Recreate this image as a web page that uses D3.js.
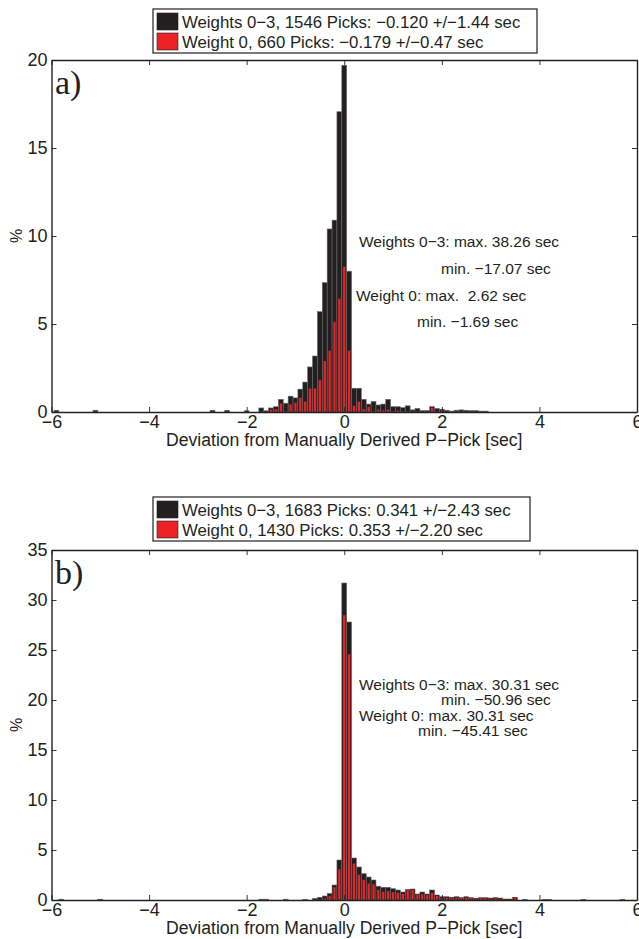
<!DOCTYPE html>
<html><head><meta charset="utf-8">
<script src="https://cdn.jsdelivr.net/npm/d3@7"></script>
<style>body{margin:0;background:#fff}svg{display:block}text{font-family:"Liberation Sans",Arial,Helvetica,sans-serif;fill:#231f20}</style>
</head><body>
<script>
// ---------- data ----------
const xTicks = [-6, -4, -2, 0, 2, 4, 6];
const aYTicks = [0, 5, 10, 15, 20];
const bYTicks = [0, 5, 10, 15, 20, 25, 30, 35];

// Panel a) bin centres (sec) and percentages
const aBins = [-5.9,-5.1,-2.7,-2.4,-2.0,-1.7,-1.6,-1.5,-1.4,-1.3,-1.2,-1.1,-1.0,-0.9,-0.8,-0.7,-0.6,-0.5,-0.4,-0.3,-0.2,-0.1,0.0,0.1,0.2,0.3,0.4,0.5,0.6,0.7,0.8,0.9,1.0,1.1,1.2,1.3,1.4,1.5,1.6,1.7,1.8,1.9,2.0,2.1,2.2,2.3,2.4,2.5,2.6,2.7,2.8,2.9];
const aAll = [0.1,0.1,0.1,0.1,0.07,0.23,0.07,0.23,0.3,0.72,0.5,0.9,0.8,1.3,1.7,2.56,3.18,5.7,7.35,10.4,10.9,17.06,19.7,8.0,1.35,1.35,0.72,0.45,0.6,0.4,0.45,0.72,0.3,0.3,0.25,0.35,0.12,0.2,0.08,0.08,0.3,0.2,0.15,0.1,0.05,0.1,0.12,0.1,0.08,0.08,0.05,0.05];
const aW0 = [0,0,0,0,0,0,0,0.15,0.17,0.5,0,0.45,0.53,0.81,0.6,1.35,1.35,1.82,2.9,3.5,5.13,6.45,8.26,3.5,0.36,0.6,0.17,0.3,0,0.15,0.1,0.15,0,0.1,0,0,0,0,0,0,0.25,0,0.12,0,0,0,0,0,0,0,0,0];

// Panel b) bin centres (sec) and percentages
const bBins = [-5.8,-5.0,-1.7,-1.6,-1.2,-0.8,-0.6,-0.5,-0.4,-0.3,-0.2,-0.1,0.0,0.1,0.2,0.3,0.4,0.5,0.6,0.7,0.8,0.9,1.0,1.1,1.2,1.3,1.4,1.5,1.6,1.7,1.8,1.9,2.0,2.1,2.2,2.3,2.4,2.5,2.6,2.7,2.8,2.9,3.0,3.1,3.2,3.3,3.4,3.5,3.7,4.1,4.2,4.9,5.7];
const bAll = [0.08,0.08,0.08,0.08,0.08,0.06,0.17,0.27,0.4,0.65,1.5,4.0,31.7,27.8,4.2,3.3,2.63,2.3,2.0,1.38,1.27,1.27,1.13,1.0,0.8,1.05,1.1,0.6,0.8,0.6,1.0,0.5,0.33,0.33,0.27,0.33,0.23,0.33,0.23,0.17,0.23,0.23,0.2,0.23,0.2,0.1,0.1,0.27,0.05,0.05,0.05,0.05,0.05];
const bW0 = [0,0,0,0,0,0,0,0.05,0.17,0.4,1.3,3.1,28.5,24.6,3.67,2.55,2.03,1.67,1.6,1.03,0.85,0.9,0.8,0.75,0.63,1.0,1.07,0.57,0.6,0.5,0.73,0.43,0.23,0.23,0.27,0.23,0.2,0.27,0.2,0.13,0.2,0.2,0.17,0.2,0.17,0.07,0.07,0.27,0,0,0,0,0];

const aLegend = ["Weights 0\u22123, 1546 Picks: \u22120.120 +/\u22121.44 sec", "Weight 0, 660 Picks: \u22120.179 +/\u22120.47 sec"];
const bLegend = ["Weights 0\u22123, 1683 Picks: 0.341 +/\u22122.43 sec", "Weight 0, 1430 Picks: 0.353 +/\u22122.20 sec"];
const aNotes = ["Weights 0\u22123: max. 38.26 sec", "min. \u221217.07 sec", "Weight 0: max.  2.62 sec", "min. \u22121.69 sec"];
const bNotes = ["Weights 0\u22123: max. 30.31 sec", "min. \u221250.96 sec", "Weight 0: max. 30.31 sec", "min. \u221245.41 sec"];
const seriesColors = ["#231f20", "#ec2227"];
const xLabel = "Deviation from Manually Derived P\u2212Pick [sec]";
const binWidth = 0.1;

// ---------- drawing ----------
const W = 639, H = 939;
const svg = d3.select("body").append("svg").attr("width", W).attr("height", H);
const x = d3.scaleLinear().domain([-6, 6]).range([51.5, 637]);

function panel(o) {
  const y = d3.scaleLinear().domain([0, o.ymax]).range([o.bottom, o.top]);
  const g = svg.append("g");
  const bw = x(binWidth) - x(0);
  const rows = o.bins.map((b, i) => ({b, all: o.all[i], w0: o.w0[i]}));

  g.append("g").selectAll("rect").data(rows.filter(d => d.all > 0)).join("rect")
    .attr("x", d => x(d.b) - bw / 2).attr("width", bw)
    .attr("y", d => y(d.all)).attr("height", d => y(0) - y(d.all))
    .attr("fill", seriesColors[0]).attr("stroke", "#6a6a6a").attr("stroke-width", 0.6);
  g.append("g").selectAll("rect").data(rows.filter(d => d.w0 > 0)).join("rect")
    .attr("x", d => x(d.b) - bw * 0.28).attr("width", bw * 0.56)
    .attr("y", d => y(d.w0)).attr("height", d => y(0) - y(d.w0))
    .attr("fill", seriesColors[1]).attr("stroke", "#3a1a1a").attr("stroke-width", 0.4);

  const fs = "18px";
  const ax = g.append("g").attr("transform", `translate(0,${o.bottom})`)
    .call(d3.axisBottom(x).tickValues(xTicks).tickSizeInner(-5).tickSizeOuter(0).tickPadding(3));
  ax.selectAll("text").style("font-size", fs).attr("fill", "#231f20");
  g.append("g").attr("transform", `translate(0,${o.top})`)
    .call(d3.axisTop(x).tickValues(xTicks).tickSizeInner(-5).tickSizeOuter(0).tickFormat(""));
  const ay = g.append("g").attr("transform", `translate(${x(-6)},0)`)
    .call(d3.axisLeft(y).tickValues(o.yticks).tickSizeInner(-5).tickSizeOuter(0).tickPadding(4));
  ay.selectAll("text").style("font-size", fs).attr("fill", "#231f20");
  g.append("g").attr("transform", `translate(${x(6)},0)`)
    .call(d3.axisRight(y).tickValues(o.yticks).tickSizeInner(-5).tickSizeOuter(0).tickFormat(""));
  g.selectAll(".domain").attr("stroke", "#231f20").attr("stroke-width", 1.4);
  g.selectAll(".tick line").attr("stroke", "#231f20").attr("stroke-width", 0.9);

  g.append("text").attr("x", (x(-6) + x(6)) / 2).attr("y", o.bottom + 34)
    .attr("text-anchor", "middle").style("font-size", "17.6px").text(xLabel);
  g.append("text").attr("transform", `translate(22,${(o.top + o.bottom) / 2}) rotate(-90)`)
    .attr("text-anchor", "middle").style("font-size", "16px").text("%");
  g.append("text").attr("x", 55).attr("y", o.top + 34).style("font-family", "'Liberation Serif',serif")
    .style("font-size", "34px").text(o.tag);

  // annotations
  o.notes.forEach((t, i) => g.append("text").attr("x", o.noteX[i]).attr("y", o.noteY[i])
    .style("font-size", "15.5px").style("white-space", "pre").attr("xml:space", "preserve").text(t));

  // legend
  const lg = g.append("g");
  lg.append("rect").attr("x", o.leg[0]).attr("y", o.leg[1]).attr("width", o.leg[2]).attr("height", 44)
    .attr("fill", "#fff").attr("stroke", "#231f20").attr("stroke-width", 1.2);
  o.legend.forEach((t, i) => {
    lg.append("rect").attr("x", o.leg[0] + 4).attr("y", o.leg[1] + 4 + i * 20).attr("width", 21).attr("height", 17)
      .attr("fill", seriesColors[i]).attr("stroke", "#231f20").attr("stroke-width", 0.6);
    lg.append("text").attr("x", o.leg[0] + 29).attr("y", o.leg[1] + 18.5 + i * 20.5)
      .style("font-size", "16.8px").text(t);
  });
}

panel({top: 60, bottom: 412, ymax: 20, yticks: aYTicks, bins: aBins, all: aAll, w0: aW0, tag: "a)",
  notes: aNotes, noteX: [359, 441, 356, 417], noteY: [247, 274, 301, 327], legend: aLegend, leg: [153, 9, 384]});
panel({top: 550, bottom: 900, ymax: 35, yticks: bYTicks, bins: bBins, all: bAll, w0: bW0, tag: "b)",
  notes: bNotes, noteX: [359, 441, 359, 418], noteY: [690, 705, 721, 736], legend: bLegend, leg: [153, 497, 377]});
</script>
</body></html>
